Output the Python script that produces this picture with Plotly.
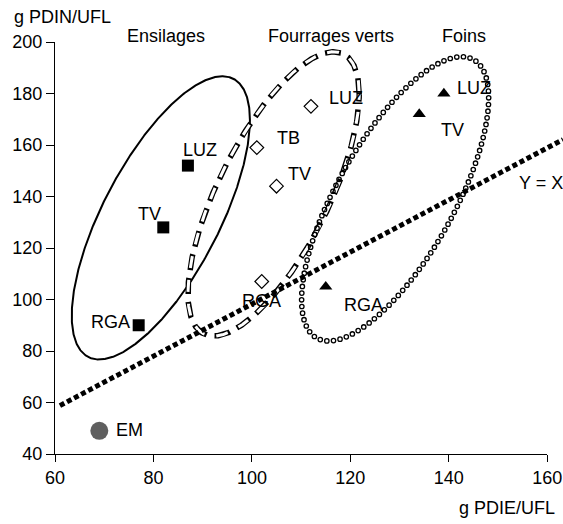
import numpy as np
import plotly.graph_objects as go

# ---------------- data ----------------
ens_names = ["LUZ", "TV", "RGA"]
ens_x = [87, 82, 77]
ens_y = [152, 128, 90]

fv_names = ["TB", "TV", "LUZ", "RGA"]
fv_x = [101, 105, 112, 102]
fv_y = [159, 144, 175, 107]

foin_names = ["LUZ", "TV", "RGA"]
foin_x = [139, 134, 115]
foin_y = [180, 172, 105]

em_name = ["EM"]
em_x = [69]
em_y = [49]

yx_x = [61, 163.2]
yx_y = [58.8, 162.1]

group_titles = ["Ensilages", "Fourrages verts", "Foins"]

x_ticks = [60, 80, 100, 120, 140, 160]
y_ticks = [40, 60, 80, 100, 120, 140, 160, 180, 200]

# ellipses: centre x, centre y, half-width, half-height, x offset of top point
ell_ens = [81.5, 131.7, 18.1, 55.0, 12.5]
ell_fv = [104.4, 141.0, 17.4, 55.2, 12.2]
ell_foin = [129.1, 139.1, 19.0, 55.2, 13.5]

# ---------------- layout constants ----------------
W, H = 563, 524
ML, MT, PW, PH = 55, 42, 508, 412
MB = H - MT - PH
X_RANGE = [60, 163.2]
Y_RANGE = [40, 200]
FONT = "Liberation Sans, Arial, sans-serif"
FS = 18


def ellipse(p, n=721):
    cx, cy, rx, ry, dxtop = p
    t = np.linspace(0, 2 * np.pi, n)
    k = dxtop * ry / rx
    x = cx + rx * np.cos(t)
    y = cy + k * np.cos(t) + np.sqrt(ry ** 2 - k ** 2) * np.sin(t)
    return x, y


def even_points(p, spacing_px):
    x, y = ellipse(p, 4000)
    sx = PW / (X_RANGE[1] - X_RANGE[0])
    sy = PH / (Y_RANGE[1] - Y_RANGE[0])
    d = np.hypot(np.diff(x) * sx, np.diff(y) * sy)
    s = np.concatenate([[0], np.cumsum(d)])
    n = int(round(s[-1] / spacing_px))
    targets = np.linspace(0, s[-1], n, endpoint=False)
    return np.interp(targets, s, x), np.interp(targets, s, y)


fig = go.Figure()

# Ensilages ellipse (solid)
ex, ey = ellipse(ell_ens)
fig.add_trace(go.Scatter(x=ex, y=ey, mode="lines", xaxis="x2", yaxis="y",
                         line=dict(color="black", width=2), hoverinfo="skip"))

# Fourrages verts ellipse (hollow dashes)
fx, fy = ellipse(ell_fv)
fig.add_trace(go.Scatter(x=fx, y=fy, mode="lines", xaxis="x2", yaxis="y",
                         line=dict(color="black", width=5.5, dash="16px,8px"),
                         hoverinfo="skip"))
fig.add_trace(go.Scatter(x=fx, y=fy, mode="lines", xaxis="x2", yaxis="y",
                         line=dict(color="white", width=3, dash="0px,2px,12px,10px"),
                         hoverinfo="skip"))

# Foins ellipse (small open circles)
hx, hy = even_points(ell_foin, 6.7)
fig.add_trace(go.Scatter(x=hx, y=hy, mode="markers", xaxis="x2", yaxis="y",
                         marker=dict(symbol="circle-open", size=4.4, color="black",
                                     line=dict(width=1.3, color="black")),
                         hoverinfo="skip"))

# Y = X line
fig.add_trace(go.Scatter(x=yx_x, y=yx_y, mode="lines", xaxis="x2", yaxis="y",
                         line=dict(color="black", width=5, dash="5px,3px"),
                         hoverinfo="skip"))

# markers (on the visible x axis)
fig.add_trace(go.Scatter(x=ens_x, y=ens_y, mode="markers", xaxis="x", yaxis="y",
                         marker=dict(symbol="square", size=12, color="black"),
                         cliponaxis=False))
fig.add_trace(go.Scatter(x=fv_x, y=fv_y, mode="markers", xaxis="x", yaxis="y",
                         marker=dict(symbol="diamond-open", size=10.5, color="black",
                                     line=dict(width=1.2, color="black")),
                         cliponaxis=False))
fig.add_trace(go.Scatter(x=foin_x, y=foin_y, mode="markers", xaxis="x", yaxis="y",
                         marker=dict(symbol="triangle-up", size=11.5, color="black"),
                         cliponaxis=False))
fig.add_trace(go.Scatter(x=em_x, y=em_y, mode="markers", xaxis="x", yaxis="y",
                         marker=dict(symbol="circle", size=18, color="#5f5f5f"),
                         cliponaxis=False))

# label positions (text left edge, vertical centre)
label_text = ens_names + em_name + fv_names + foin_names + ["Y = X"]
label_x = [85.6, 76.5, 67.0, 72.0, 104.7, 106.9, 115.3, 97.5, 141.3, 138.0, 118.3, 153.8]
label_y = [158.1, 133.2, 91.3, 49.3, 162.7, 148.7, 178.3, 99.4, 182.1, 165.8, 97.9, 145.2]

annotations = []
for t, x, y in zip(label_text, label_x, label_y):
    annotations.append(dict(text=t, x=x, y=y, xref="x2", yref="y", showarrow=False,
                            xanchor="left", yanchor="middle",
                            font=dict(family=FONT, size=FS, color="black")))

title_x = [82.5, 116.1, 143.0]
title_y = (MT + PH - 36) / PH
for t, x in zip(group_titles, title_x):
    annotations.append(dict(text=t, x=x, y=title_y, xref="x2", yref="paper", showarrow=False,
                            xanchor="center", yanchor="middle",
                            font=dict(family=FONT, size=FS, color="black")))

annotations.append(dict(text="g PDIN/UFL", x=(12 - ML) / PW, y=(MT + PH - 17) / PH,
                        xref="paper", yref="paper", showarrow=False,
                        xanchor="left", yanchor="middle",
                        font=dict(family=FONT, size=FS, color="black")))
annotations.append(dict(text="g PDIE/UFL", x=(557 - ML) / PW, y=(MT + PH - 508) / PH,
                        xref="paper", yref="paper", showarrow=False,
                        xanchor="right", yanchor="middle",
                        font=dict(family=FONT, size=FS, color="black")))

xdom = (x_ticks[-1] - X_RANGE[0]) / (X_RANGE[1] - X_RANGE[0])

fig.update_layout(
    width=W, height=H, autosize=False,
    margin=dict(l=ML, r=W - ML - PW, t=MT, b=MB),
    paper_bgcolor="white", plot_bgcolor="rgba(0,0,0,0)",
    showlegend=False,
    font=dict(family=FONT, size=FS, color="black"),
    xaxis=dict(domain=[0, xdom], range=[x_ticks[0], x_ticks[-1]], anchor="y",
               automargin=False,
               showline=True, linecolor="black", linewidth=1.3,
               ticks="outside", ticklen=7, tickwidth=1.3, tickcolor="black",
               tickvals=x_ticks, showgrid=False, zeroline=False,
               tickfont=dict(family=FONT, size=FS, color="black")),
    xaxis2=dict(domain=[0, 1], range=X_RANGE, anchor="y", visible=False,
                automargin=False, showgrid=False, zeroline=False),
    yaxis=dict(range=Y_RANGE, anchor="x", automargin=False,
               showline=True, linecolor="black", linewidth=1.3,
               ticks="outside", ticklen=8, tickwidth=1.3, tickcolor="black",
               tickvals=y_ticks, showgrid=False, zeroline=False,
               tickfont=dict(family=FONT, size=FS, color="black")),
    annotations=annotations,
)

fig.write_html("out.html",
               config={"displayModeBar": False, "responsive": False},
               post_script="document.body.style.margin='0';document.body.style.overflow='hidden';")
